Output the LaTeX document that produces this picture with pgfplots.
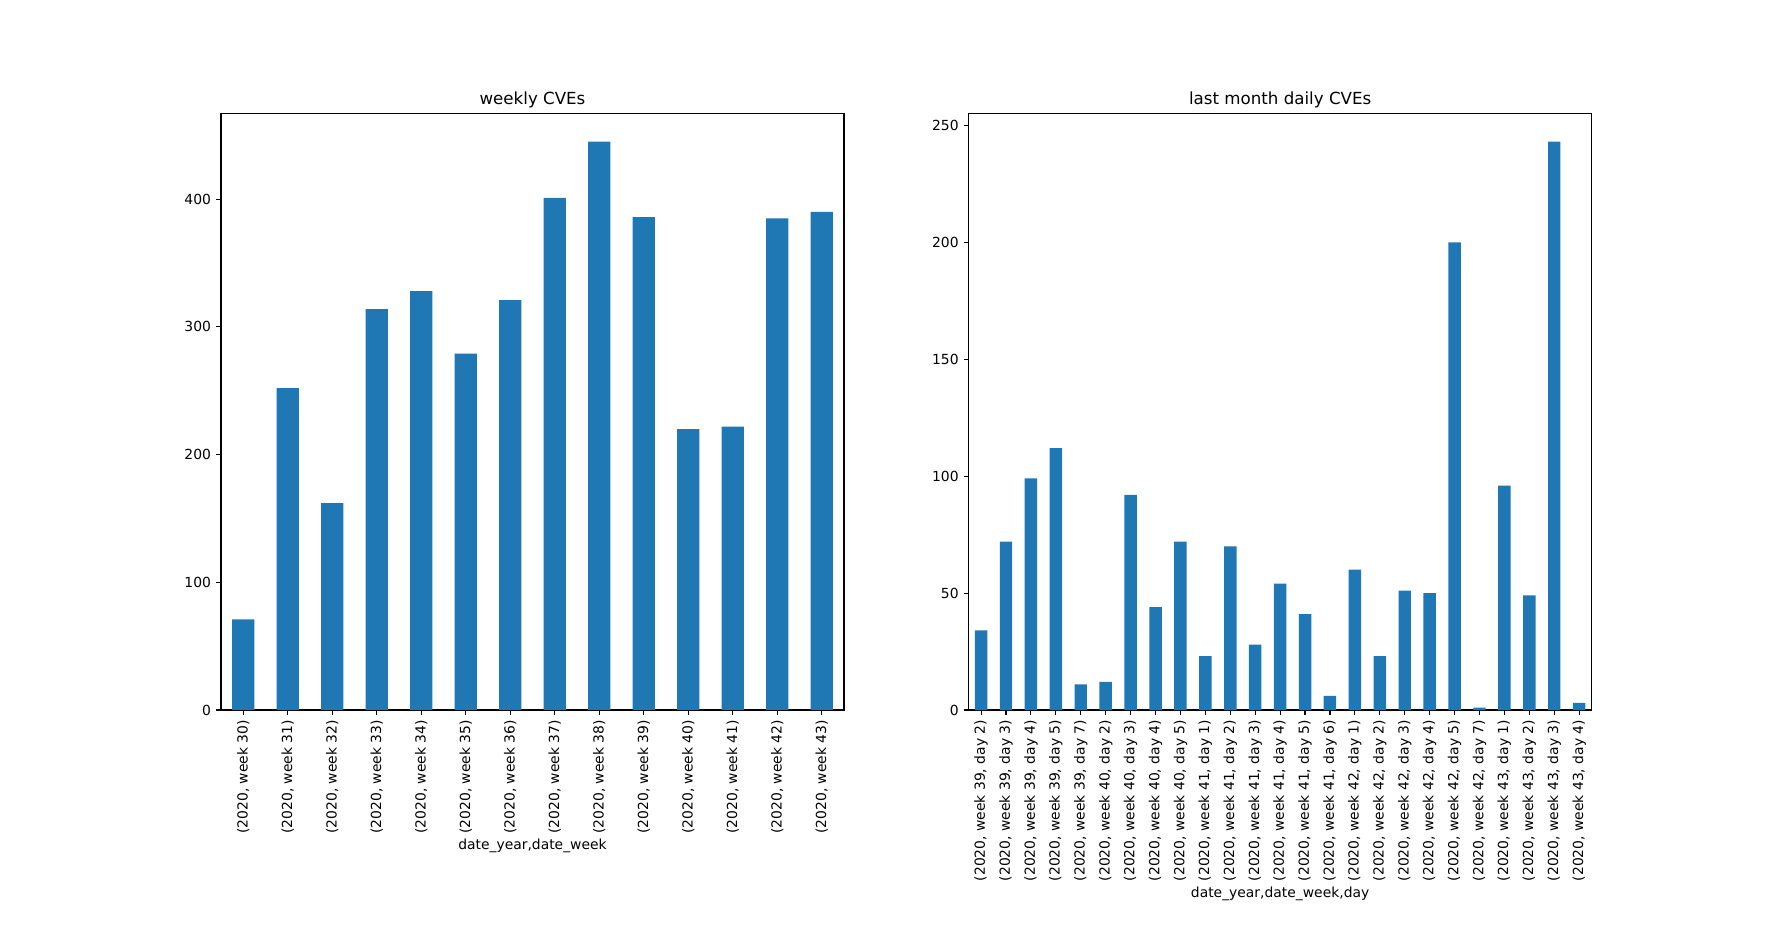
\documentclass[border=0pt]{standalone}
\usepackage{pgfplots}
\pgfplotsset{compat=1.18}
\usepackage{fontspec}
\setmainfont{DejaVu Sans}
\definecolor{mplblue}{HTML}{1F77B4}
\pgfplotsset{
  mplbar/.style={
    scale only axis,
    width=448.56pt, height=429.6pt,
    ybar, bar width=0.5, bar shift=0pt,
    ymin=0, enlargelimits=false,
    axis line style={line width=0.8pt, black},
    every tick/.style={line width=0.8pt, black},
    tick align=outside, major tick length=3.5pt,
    tick pos=left,
    /pgf/number format/assume math mode=true,
    ticklabel style={font=\fontsize{10}{12}\selectfont},
    xticklabel style={rotate=90, anchor=east, inner sep=0pt, xshift=-3.5pt},
    yticklabel style={anchor=east, inner sep=0pt, xshift=-3.5pt},
    every axis title/.style={font=\fontsize{12}{14}\selectfont, at={(0.5,1)}, anchor=base, yshift=6pt},
    xlabel style={font=\fontsize{10}{12}\selectfont, inner sep=0pt, yshift=-4pt},
  }
}
\begin{document}
\begin{tikzpicture}
\path[use as bounding box] (0,0) rectangle (1272.96pt,679.68pt);
\begin{axis}[mplbar,
  at={(159.12pt,168.48pt)}, anchor=south west,
  xmin=-0.5, xmax=13.5, ymax=467.25,
  xtick={0,...,13},
  xticklabels={{(2020, week 30)},{(2020, week 31)},{(2020, week 32)},{(2020, week 33)},{(2020, week 34)},{(2020, week 35)},{(2020, week 36)},{(2020, week 37)},{(2020, week 38)},{(2020, week 39)},{(2020, week 40)},{(2020, week 41)},{(2020, week 42)},{(2020, week 43)}},
  ytick={0,100,200,300,400},
  title={weekly CVEs},
  xlabel={date\_year,date\_week},
]
\addplot[fill=mplblue, draw=none] coordinates {
(0,71) (1,252) (2,162) (3,314) (4,328) (5,279) (6,321) (7,401) (8,445) (9,386) (10,220) (11,222) (12,385) (13,390)
};
\end{axis}
\begin{axis}[mplbar,
  at={(697.4pt,168.48pt)}, anchor=south west,
  xmin=-0.5, xmax=24.5, ymax=255.15,
  xtick={0,...,24},
  xticklabels={{(2020, week 39, day 2)},{(2020, week 39, day 3)},{(2020, week 39, day 4)},{(2020, week 39, day 5)},{(2020, week 39, day 7)},{(2020, week 40, day 2)},{(2020, week 40, day 3)},{(2020, week 40, day 4)},{(2020, week 40, day 5)},{(2020, week 41, day 1)},{(2020, week 41, day 2)},{(2020, week 41, day 3)},{(2020, week 41, day 4)},{(2020, week 41, day 5)},{(2020, week 41, day 6)},{(2020, week 42, day 1)},{(2020, week 42, day 2)},{(2020, week 42, day 3)},{(2020, week 42, day 4)},{(2020, week 42, day 5)},{(2020, week 42, day 7)},{(2020, week 43, day 1)},{(2020, week 43, day 2)},{(2020, week 43, day 3)},{(2020, week 43, day 4)}},
  ytick={0,50,100,150,200,250},
  title={last month daily CVEs},
  xlabel={date\_year,date\_week,day},
]
\addplot[fill=mplblue, draw=none] coordinates {
(0,34) (1,72) (2,99) (3,112) (4,11) (5,12) (6,92) (7,44) (8,72) (9,23) (10,70) (11,28) (12,54) (13,41) (14,6) (15,60) (16,23) (17,51) (18,50) (19,200) (20,1) (21,96) (22,49) (23,243) (24,3)
};
\end{axis}
\end{tikzpicture}
\end{document}
